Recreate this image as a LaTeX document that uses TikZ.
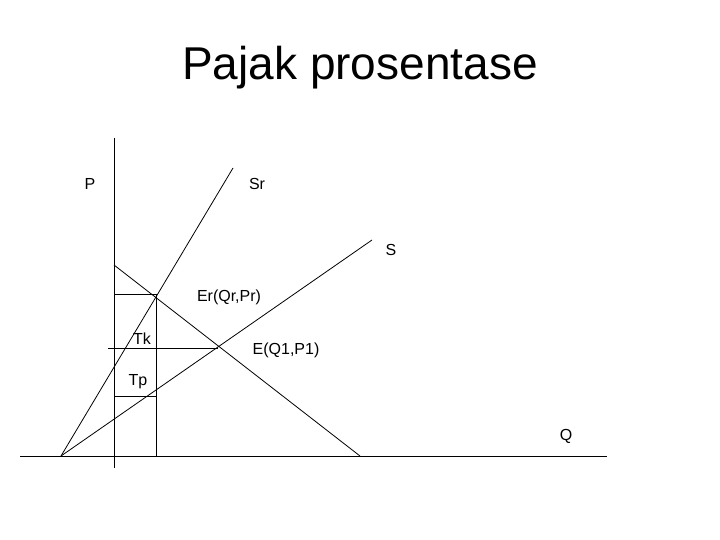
\documentclass[tikz,border=0pt]{standalone}
\usepackage{fontspec}
\setmainfont{Liberation Sans}
\begin{document}
\begin{tikzpicture}[x=1pt,y=-1pt,ln/.style={black,line width=0.8pt},lb/.style={font=\fontsize{16}{18}\selectfont,inner sep=0pt}]
\useasboundingbox (0,0) rectangle (720,540);
\node[inner sep=0pt,font=\fontsize{46}{50}\selectfont] (title) at (360,68) {Pajak prosentase};
\coordinate (ytop) at (114,138); \coordinate (ybot) at (114,468);
\coordinate (xl) at (20,456); \coordinate (xr) at (607,456);
\coordinate (o) at (61,456); \coordinate (srend) at (233,168); \coordinate (send) at (372,240);
\coordinate (dtop) at (114,265); \coordinate (dbot) at (360,456);
\coordinate (er) at (156,294); \coordinate (erl) at (114,294);
\coordinate (tkl) at (108,348); \coordinate (tkr) at (218,348);
\coordinate (tpl) at (114,396); \coordinate (tpr) at (156,396);
\coordinate (vb) at (156,456);
\draw[ln] (ytop) -- (ybot);
\draw[ln] (xl) -- (xr);
\draw[ln] (o) -- (srend);
\draw[ln] (o) -- (send);
\draw[ln] (dtop) -- (dbot);
\draw[ln] (erl) -- (er) -- (vb);
\draw[ln] (tkl) -- (tkr);
\draw[ln] (tpl) -- (tpr);
\node[lb] (p) at (90,184) {P};
\node[lb] (sr) at (257,184) {Sr};
\node[lb] (s) at (391,250) {S};
\node[lb] (erlab) at (229,297) {Er(Qr,Pr)};
\node[lb] (tk) at (142,339) {Tk};
\node[lb] (e) at (286,350) {E(Q1,P1)};
\node[lb] (tp) at (138,382) {Tp};
\node[lb] (q) at (566,436) {Q};
\end{tikzpicture}
\end{document}
